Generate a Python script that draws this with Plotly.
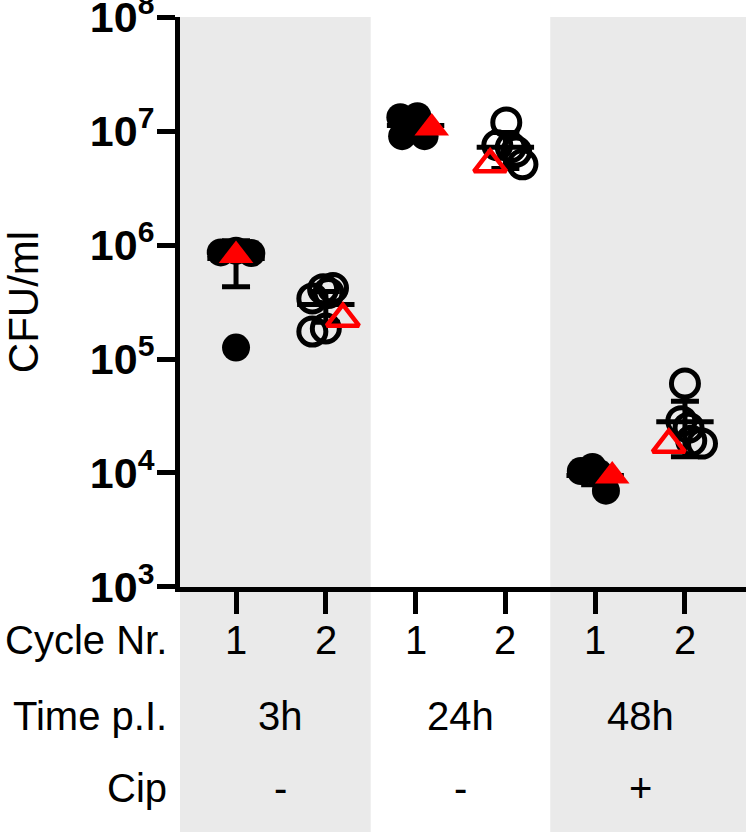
import plotly.graph_objects as go

# ---------------- data ----------------
cycle_labels = ["1", "2", "1", "2", "1", "2"]
time_labels = ["3h", "24h", "48h"]
cip_labels = ["-", "-", "+"]
row_titles = ["Cycle Nr.", "Time p.I.", "Cip"]

# individual replicates (black circles); cycle 1 filled, cycle 2 open
circle_vals = [
    [8.6e5, 8.9e5, 8.5e5, 1.26e5],
    [3.4e5, 4.1e5, 4.2e5, 3.8e5, 1.74e5, 1.85e5],
    [1.32e7, 1.35e7, 9.0e6, 9.0e6],
    [1.19e7, 7.5e6, 7.2e6, 6.6e6, 5.1e6],
    [1.04e4, 1.13e4, 7.0e3, 1.0e4],
    [6.1e4, 2.85e4, 2.5e4, 1.81e4, 1.92e4],
]
circle_jitter = [
    [-0.17, 0.0, 0.17, 0.0],
    [-0.15, -0.03, 0.08, 0.03, -0.15, 0.0],
    [-0.17, 0.02, -0.15, 0.10],
    [0.01, -0.09, 0.06, 0.12, 0.19],
    [-0.16, -0.03, 0.12, 0.04],
    [0.0, -0.04, 0.04, 0.19, 0.07],
]
# highlighted replicate (red triangle)
tri_vals = [8.1e5, 2.26e5, 1.06e7, 5.1e6, 9.4e3, 1.77e4]
tri_jitter = [0.0, 0.19, 0.18, -0.17, 0.19, -0.18]
# mean and SD
mean_vals = [7.6e5, 3.0e5, 1.12e7, 7.2e6, 9.5e3, 2.82e4]
sd_vals = [3.3e5, 0.9e5, 2.0e6, 2.5e6, 1.6e3, 1.43e4]

y_tick_exp = [3, 4, 5, 6, 7, 8]

# ---------------- figure ----------------
FONT = "Arial, Liberation Sans, sans-serif"
positions = list(range(len(cycle_labels)))
group_size = 2
n_groups = len(time_labels)

fig = go.Figure()

# mean bars with SD error bars
fig.add_trace(go.Scatter(
    x=positions, y=mean_vals, mode="markers",
    marker=dict(symbol="line-ew", size=41, color="black",
                line=dict(color="black", width=5)),
    error_y=dict(type="data", array=sd_vals, arrayminus=sd_vals,
                 color="black", thickness=5, width=14, visible=True),
    showlegend=False, hoverinfo="skip", cliponaxis=False,
))

# circles
for i, (vals, jit) in enumerate(zip(circle_vals, circle_jitter)):
    filled = (i % group_size == 0)
    fig.add_trace(go.Scatter(
        x=[positions[i] + j for j in jit], y=vals, mode="markers",
        marker=dict(
            symbol="circle" if filled else "circle-open",
            size=28 if filled else 27,
            color="black",
            line=dict(color="black", width=0 if filled else 5),
        ),
        showlegend=False, hoverinfo="skip", cliponaxis=False,
    ))

# red triangles
for i in positions:
    filled = (i % group_size == 0)
    fig.add_trace(go.Scatter(
        x=[positions[i] + tri_jitter[i]], y=[tri_vals[i]], mode="markers",
        marker=dict(
            symbol="triangle-up" if filled else "triangle-up-open",
            size=30 if filled else 28,
            color="red",
            line=dict(color="red", width=0 if filled else 4.5),
        ),
        showlegend=False, hoverinfo="skip", cliponaxis=False,
    ))

x_lo, x_hi = -0.624, 5.68

# shaded group bands (groups 1 and 3)
shapes = []
for g in range(n_groups):
    if g % 2 == 0:
        x0 = x_lo if g == 0 else g * group_size - 0.5
        x1 = x_hi if g == n_groups - 1 else g * group_size + group_size - 0.5
        shapes.append(dict(type="rect", xref="x", yref="paper",
                           x0=x0, x1=x1, y0=-0.45, y1=1.0,
                           fillcolor="rgb(234,234,234)", line=dict(width=0),
                           layer="below"))

annotations = []
row_y = [-0.093, -0.226, -0.352]
for i, lab in enumerate(cycle_labels):
    annotations.append(dict(x=positions[i], y=row_y[0], xref="x", yref="paper",
                            text=lab, showarrow=False, yanchor="middle",
                            font=dict(family=FONT, size=40, color="black")))
for g in range(n_groups):
    cx = g * group_size + (group_size - 1) / 2
    annotations.append(dict(x=cx, y=row_y[1], xref="x", yref="paper",
                            text=time_labels[g], showarrow=False, yanchor="middle",
                            font=dict(family=FONT, size=40, color="black")))
    annotations.append(dict(x=cx, y=row_y[2], xref="x", yref="paper",
                            text=cip_labels[g], showarrow=False, yanchor="middle",
                            font=dict(family=FONT, size=40, color="black")))
for r, t in enumerate(row_titles):
    annotations.append(dict(x=-0.022, y=row_y[r], xref="paper", yref="paper",
                            text=t, showarrow=False, xanchor="right", yanchor="middle",
                            borderpad=0,
                            font=dict(family=FONT, size=40, color="black")))

fig.update_layout(
    width=750, height=832,
    margin=dict(l=180, r=4, t=17, b=245, autoexpand=False),
    paper_bgcolor="white", plot_bgcolor="white",
    shapes=shapes, annotations=annotations,
    xaxis=dict(range=[x_lo, x_hi], tickvals=positions, showticklabels=False,
               ticks="outside", ticklen=22, tickwidth=5, tickcolor="black",
               showline=True, linewidth=5, linecolor="black",
               showgrid=False, zeroline=False, automargin=False),
    yaxis=dict(type="log", range=[3 - 1e-4, 8 + 1e-4],
               tickvals=[10 ** e for e in y_tick_exp],
               ticktext=[f"<b>10<sup>{e}</sup></b>" for e in y_tick_exp],
               tickfont=dict(family=FONT, size=43, color="black"),
               ticklabeloverflow="allow", ticklabelstandoff=-6,
               ticks="outside", ticklen=18, tickwidth=5, tickcolor="black",
               showline=True, linewidth=5, linecolor="black",
               showgrid=False, zeroline=False, automargin=False,
               title=dict(text="CFU/ml", standoff=50,
                          font=dict(family=FONT, size=42, color="black"))),
)

fig.write_html("out.html",
               config={"displayModeBar": False},
               post_script="document.body.style.margin='0';"
                           "document.body.style.overflow='hidden';")
